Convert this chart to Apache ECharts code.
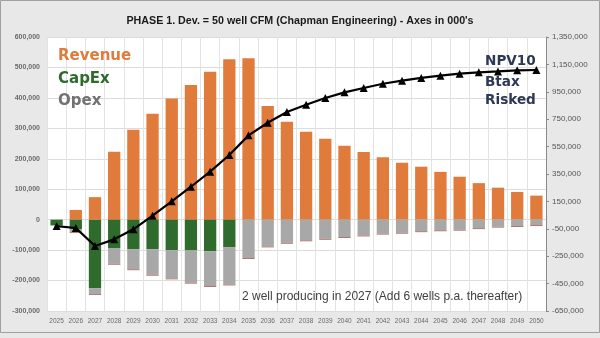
<!DOCTYPE html>
<html><head><meta charset="utf-8">
<script src="https://cdn.jsdelivr.net/npm/echarts@6/dist/echarts.min.js"></script>
<style>html,body{margin:0;padding:0;background:#e8e8e8}#c{width:600px;height:338px}</style>
</head><body><div id="c"></div>
<script>
const years = ['2025','2026','2027','2028','2029','2030','2031','2032','2033','2034','2035','2036','2037','2038','2039','2040','2041','2042','2043','2044','2045','2046','2047','2048','2049','2050'];
const revenue = [0,32000,74000,223000,295000,348000,398000,442000,486000,527000,530000,373000,322000,289000,266000,243000,222000,205000,187000,174000,157000,141000,120000,105000,91000,79000];
const capex = [-19000,-32000,-225000,-93000,-97000,-97000,-100000,-101000,-104000,-90000,0,0,0,0,0,0,0,0,0,0,0,0,0,0,0,0];
const opex = [0,-9000,-19000,-52000,-66000,-84000,-93000,-106000,-114000,-123000,-126000,-88000,-76000,-68000,-63000,-57000,-52000,-46000,-43000,-38000,-35000,-33000,-28000,-23000,-21000,-18000];
const other = [0,-3000,-3000,-3000,-3000,-3000,-3000,-3000,-3000,-3000,-3000,-3000,-3000,-3000,-3000,-3000,-3000,-3000,-3000,-3000,-3000,-3000,-3000,-3000,-3000,-3000];
const npv = [-30000,-44000,-175000,-127000,-54000,46000,151000,257000,367000,489000,632000,724000,803000,856000,905000,946000,978000,1009000,1031000,1051000,1068000,1082000,1092000,1099000,1107000,1109000];

const fmt = v => v.toLocaleString('en-US');
const chart = echarts.init(document.getElementById('c'));
const heavy = '"DejaVu Sans",sans-serif';
chart.setOption({
  animation: false,
  backgroundColor: '#e8e8e8',
  title: {
    text: "PHASE 1. Dev. = 50 well CFM (Chapman Engineering) - Axes in 000's",
    left: 'center', top: 11,
    textStyle: {fontFamily: '"Liberation Sans",sans-serif', fontSize: 10.7, fontWeight: 'bold', color: '#1a1a1a'}
  },
  grid: {left: 47, right: 54, top: 37, bottom: 27, show: true, backgroundColor: '#ffffff', borderWidth: 0},
  xAxis: {
    type: 'category', data: years,
    axisLine: {show: false}, axisTick: {show: false},
    axisLabel: {fontSize: 6.5, color: '#6a6a6a', margin: 7, interval: 0, fontFamily: 'Liberation Sans'},
    splitLine: {show: true, lineStyle: {color: '#e3e3e3', width: 1}}
  },
  yAxis: [{
    type: 'value', min: -300000, max: 600000, interval: 100000,
    axisLine: {show: false}, axisTick: {show: false},
    axisLabel: {formatter: fmt, fontSize: 7, fontWeight: 'bold', color: '#6a6a6a', margin: 7, fontFamily: 'Liberation Sans'},
    splitLine: {lineStyle: {color: '#dcdcdc', width: 1}}
  }, {
    type: 'value', min: -650000, max: 1350000, interval: 200000,
    axisLine: {show: true, lineStyle: {color: '#8a8a8a', width: 1}},
    axisTick: {show: true, length: 3, lineStyle: {color: '#8a8a8a'}},
    axisLabel: {formatter: fmt, fontSize: 8, color: '#555555', margin: 6, fontFamily: 'Liberation Sans'},
    splitLine: {show: false}
  }],
  series: [
    {name: 'Revenue', type: 'bar', stack: 'a', data: revenue, barWidth: '64%', itemStyle: {color: '#e07b3c'}},
    {name: 'CapEx', type: 'bar', stack: 'a', data: capex, itemStyle: {color: '#2f6b2c'}},
    {name: 'Opex', type: 'bar', stack: 'a', data: opex, itemStyle: {color: '#a8a8a8'}},
    {name: 'Other', type: 'bar', stack: 'a', data: other, itemStyle: {color: '#a86a66'}},
    {name: 'NPV10', type: 'line', yAxisIndex: 1, data: npv, symbol: 'triangle', symbolSize: 8,
     itemStyle: {color: '#000'}, lineStyle: {color: '#000', width: 2.2}, z: 5}
  ],
  graphic: [
    {type: 'rect', shape: {x: 0.5, y: 0.5, width: 599, height: 332}, style: {fill: 'none', stroke: '#a0a0a0', lineWidth: 1}, z: 100, silent: true},
    {type: 'text', z: 100, style: {x: 58, y: 56, text: 'Revenue', fontSize: 15, fontWeight: 'bold', fill: '#e07b3c', fontFamily: heavy, verticalAlign: 'middle'}},
    {type: 'text', z: 100, style: {x: 58, y: 79, text: 'CapEx', fontSize: 15, fontWeight: 'bold', fill: '#2f6b2c', fontFamily: heavy, verticalAlign: 'middle'}},
    {type: 'text', z: 100, style: {x: 58, y: 101, text: 'Opex', fontSize: 15, fontWeight: 'bold', fill: '#727272', fontFamily: heavy, verticalAlign: 'middle'}},
    {type: 'text', z: 100, style: {x: 485, y: 61.5, text: 'NPV10', fontSize: 13.6, fontWeight: 'bold', fill: '#2e3853', fontFamily: heavy, verticalAlign: 'middle'}},
    {type: 'text', z: 100, style: {x: 485, y: 82, text: 'Btax', fontSize: 13.6, fontWeight: 'bold', fill: '#2e3853', fontFamily: heavy, verticalAlign: 'middle'}},
    {type: 'text', z: 100, style: {x: 485, y: 100, text: 'Risked', fontSize: 13.6, fontWeight: 'bold', fill: '#2e3853', fontFamily: heavy, verticalAlign: 'middle'}},
    {type: 'text', z: 100, style: {x: 242, y: 297, text: '2 well producing in 2027 (Add 6 wells p.a. thereafter)', fontSize: 12, fill: '#404040', fontFamily: 'Liberation Sans', verticalAlign: 'middle'}}
  ]
});
</script></body></html>
